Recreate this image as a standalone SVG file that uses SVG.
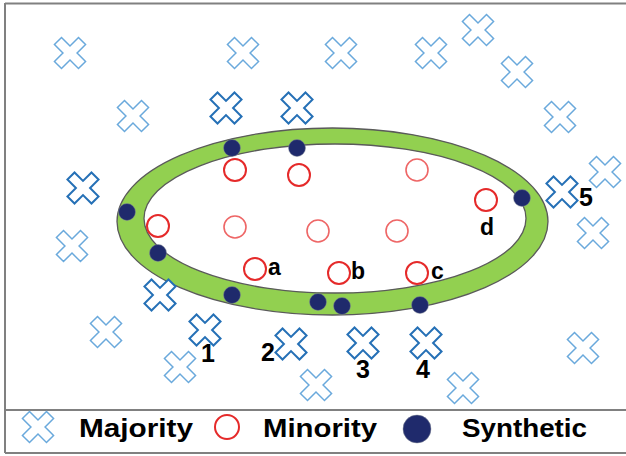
<svg xmlns="http://www.w3.org/2000/svg" xmlns:xlink="http://www.w3.org/1999/xlink" width="626" height="456" viewBox="0 0 626 456">
  <style>
    .frame { stroke: #808080; stroke-width: 2; fill: none; }
    .band-outer { fill: #92d050; stroke: #5a5a5a; stroke-width: 1.3; }
    .band-inner { fill: #ffffff; stroke: #5a5a5a; stroke-width: 1.3; }
    .maj-light { fill: #ffffff; stroke: #6aa9dc; stroke-width: 1.5; }
    .maj-dark { fill: #ffffff; stroke: #2570b6; stroke-width: 2; }
    .min { fill: none; stroke: #e52a2a; stroke-width: 2; }
    .min-soft { fill: none; stroke: #ee6666; stroke-width: 1.6; }
    .syn { fill: #1f2a6c; stroke: #8a8f9a; stroke-width: 0.8; stroke-opacity: 0.6; }
    .lbl { font-family: "Liberation Sans", Arial, sans-serif; font-weight: bold; fill: #000000; }
    .num { font-size: 25px; }
    .let { font-size: 23px; }
    .leg { font-size: 26px; }
  </style>
  <defs>
    <!-- X-shaped majority marker: a plus with 10px arms turned by 45 degrees -->
    <path id="xmark" d="M -5,-17 H 5 V -5 H 17 V 5 H 5 V 17 H -5 V 5 H -17 V -5 H -5 Z" transform="rotate(45)"/>
  </defs>

  <!-- frame and legend separator -->
  <g id="frame">
    <line class="frame" x1="5" y1="3.5" x2="626" y2="3.5"/>
    <line class="frame" x1="5" y1="3" x2="5" y2="453"/>
    <line class="frame" x1="5" y1="410" x2="626" y2="410"/>
    <line class="frame" x1="5" y1="453" x2="626" y2="453"/>
  </g>

  <!-- green borderline band -->
  <g id="band">
    <ellipse class="band-outer" cx="332.5" cy="221.5" rx="215.5" ry="93.5"/>
    <ellipse class="band-inner" cx="335" cy="218.5" rx="191" ry="74.5"/>
  </g>

  <g id="connectors"/>

  <!-- majority samples, far from the border -->
  <g id="majority-far">
    <g id="m1"><use xlink:href="#xmark" class="maj-light" x="70" y="53"/></g>
    <g id="m2"><use xlink:href="#xmark" class="maj-light" x="243" y="53"/></g>
    <g id="m3"><use xlink:href="#xmark" class="maj-light" x="341" y="53"/></g>
    <g id="m4"><use xlink:href="#xmark" class="maj-light" x="431" y="53"/></g>
    <g id="m5"><use xlink:href="#xmark" class="maj-light" x="478" y="30"/></g>
    <g id="m6"><use xlink:href="#xmark" class="maj-light" x="517" y="72"/></g>
    <g id="m7"><use xlink:href="#xmark" class="maj-light" x="133" y="116"/></g>
    <g id="m8"><use xlink:href="#xmark" class="maj-light" x="560" y="117"/></g>
    <g id="m9"><use xlink:href="#xmark" class="maj-light" x="605" y="172"/></g>
    <g id="m10"><use xlink:href="#xmark" class="maj-light" x="72" y="246"/></g>
    <g id="m11"><use xlink:href="#xmark" class="maj-light" x="593" y="233"/></g>
    <g id="m12"><use xlink:href="#xmark" class="maj-light" x="106" y="332"/></g>
    <g id="m13"><use xlink:href="#xmark" class="maj-light" x="180" y="367"/></g>
    <g id="m14"><use xlink:href="#xmark" class="maj-light" x="316" y="385"/></g>
    <g id="m15"><use xlink:href="#xmark" class="maj-light" x="463" y="388"/></g>
    <g id="m16"><use xlink:href="#xmark" class="maj-light" x="583" y="348"/></g>
  </g>

  <!-- majority samples near the border -->
  <g id="majority-near">
    <g id="n1"><use xlink:href="#xmark" class="maj-dark" x="226" y="108"/></g>
    <g id="n2"><use xlink:href="#xmark" class="maj-dark" x="297" y="108"/></g>
    <g id="n3"><use xlink:href="#xmark" class="maj-dark" x="83" y="188"/></g>
    <g id="n4"><use xlink:href="#xmark" class="maj-dark" x="160" y="295"/></g>
    <g id="n5"><use xlink:href="#xmark" class="maj-dark" x="205" y="330"/></g>
    <g id="n6"><use xlink:href="#xmark" class="maj-dark" x="291" y="344"/></g>
    <g id="n7"><use xlink:href="#xmark" class="maj-dark" x="363" y="343"/></g>
    <g id="n8"><use xlink:href="#xmark" class="maj-dark" x="426" y="343"/></g>
    <g id="n9"><use xlink:href="#xmark" class="maj-dark" x="562" y="192"/></g>
  </g>

  <!-- minority samples -->
  <g id="minority">
    <g id="c1"><circle class="min" cx="235" cy="170" r="11"/></g>
    <g id="c2"><circle class="min" cx="299" cy="175" r="11"/></g>
    <g id="c3"><circle class="min-soft" cx="417" cy="170" r="11"/></g>
    <g id="c4"><circle class="min" cx="486" cy="200" r="11"/></g>
    <g id="c5"><circle class="min" cx="158" cy="226" r="11"/></g>
    <g id="c6"><circle class="min-soft" cx="235" cy="227" r="11"/></g>
    <g id="c7"><circle class="min-soft" cx="318" cy="231" r="11"/></g>
    <g id="c8"><circle class="min-soft" cx="397" cy="231" r="11"/></g>
    <g id="c9"><circle class="min" cx="255" cy="269" r="11"/></g>
    <g id="c10"><circle class="min" cx="339" cy="273" r="11"/></g>
    <g id="c11"><circle class="min" cx="417" cy="273" r="11"/></g>
  </g>

  <!-- synthetic samples on the band -->
  <g id="synthetic">
    <g id="s1"><circle class="syn" cx="232" cy="148" r="8.5"/></g>
    <g id="s2"><circle class="syn" cx="297" cy="148" r="8.5"/></g>
    <g id="s3"><circle class="syn" cx="127" cy="212" r="8.5"/></g>
    <g id="s4"><circle class="syn" cx="158" cy="253" r="8.5"/></g>
    <g id="s5"><circle class="syn" cx="232" cy="295" r="8.5"/></g>
    <g id="s6"><circle class="syn" cx="318" cy="302" r="8.5"/></g>
    <g id="s7"><circle class="syn" cx="342" cy="306" r="8.5"/></g>
    <g id="s8"><circle class="syn" cx="420" cy="305" r="8.5"/></g>
    <g id="s9"><circle class="syn" cx="522" cy="198" r="8.5"/></g>
  </g>

  <!-- point labels -->
  <g id="labels">
    <text class="lbl let" x="268" y="275">a</text>
    <text class="lbl let" x="351" y="279">b</text>
    <text class="lbl let" x="431" y="279">c</text>
    <text class="lbl let" x="480" y="235">d</text>
    <text class="lbl num" x="201" y="362">1</text>
    <text class="lbl num" x="261" y="361">2</text>
    <text class="lbl num" x="356" y="378">3</text>
    <text class="lbl num" x="416" y="378">4</text>
    <text class="lbl num" x="579" y="206">5</text>
  </g>

  <!-- legend -->
  <g id="legend">
    <g id="legend-majority">
      <use xlink:href="#xmark" class="maj-light" x="38" y="427"/>
      <text class="lbl leg" x="79" y="437" textLength="114" lengthAdjust="spacingAndGlyphs">Majority</text>
    </g>
    <g id="legend-minority">
      <circle class="min" cx="227" cy="427" r="12"/>
      <text class="lbl leg" x="263" y="437" textLength="114" lengthAdjust="spacingAndGlyphs">Minority</text>
    </g>
    <g id="legend-synthetic">
      <circle class="syn" cx="417" cy="429" r="14"/>
      <text class="lbl leg" x="462" y="437" textLength="125" lengthAdjust="spacingAndGlyphs">Synthetic</text>
    </g>
  </g>
</svg>
